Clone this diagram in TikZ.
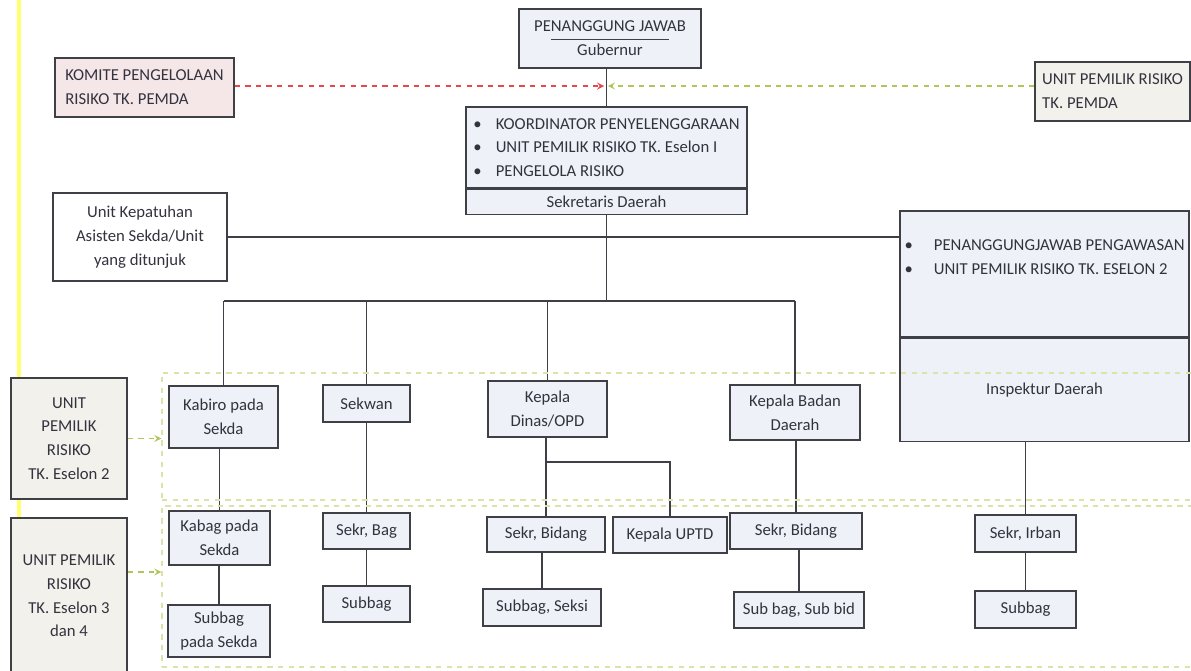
\documentclass[tikz,border=0pt]{standalone}
\usepackage{fontspec}
\setmainfont{Carlito}
\definecolor{boxline}{HTML}{3F3F46}
\definecolor{boxfill}{HTML}{EEF1F8}
\definecolor{komfill}{HTML}{F5E6E8}
\definecolor{unitfill}{HTML}{F3F1EC}
\definecolor{txtcol}{HTML}{33333F}
\definecolor{riskred}{HTML}{E8484A}
\definecolor{riskgreen}{HTML}{AFC65A}
\definecolor{zonecol}{HTML}{DCE3A8}
\definecolor{scanyellow}{HTML}{FFFF70}
\tikzset{
  box/.style={draw=boxline,fill=boxfill,line width=0.9pt,inner sep=1pt,align=center,text=txtcol,font=\fontsize{9.5}{13.5}\selectfont},
  boxsize/.style 2 args={minimum width=#1*0.02cm,minimum height=#2*0.02cm},
  link/.style={draw=boxline,line width=0.8pt},
  riskarrow/.style={dashed,line width=0.8pt,-stealth},
  zone/.style={draw=zonecol,line width=0.6pt,dash pattern=on 3pt off 3pt,inner sep=0pt},
}
\begin{document}
\begin{tikzpicture}[x=0.02cm,y=-0.02cm]
\useasboundingbox (0,0) rectangle (1191,670);
\draw[scanyellow,line width=2pt](19,0)--(19,670);
% top level
\node[box,boxsize={182}{59}] (gub) at (610,38.5) {PENANGGUNG JAWAB\\Gubernur};
\draw[boxline,line width=0.6pt](gub.center)++(-59,1)--++(118,0);
\node[box,fill=komfill,align=left,boxsize={179}{59}] (komite) at (144.5,87.5) {KOMITE PENGELOLAAN\\RISIKO TK. PEMDA};
\node[box,fill=unitfill,align=left,boxsize={155}{59}] (upemda) at (1112.5,91.5) {UNIT PEMILIK RISIKO\\TK. PEMDA};
\node[box,align=left,boxsize={281}{81}] (sekdatop) at (606.5,147.5) {\textbullet\hspace{8pt}KOORDINATOR PENYELENGGARAAN\\\textbullet\hspace{8pt}UNIT PEMILIK RISIKO TK. Eselon I\\\textbullet\hspace{8pt}PENGELOLA RISIKO};
\node[box,boxsize={281}{25},anchor=north] (sekda) at (sekdatop.south) {Sekretaris Daerah};
\node[box,fill=white,boxsize={174}{88}] (kepatuhan) at (140,237) {Unit Kepatuhan\\Asisten Sekda/Unit\\yang ditunjuk};
\node[box,align=left,boxsize={289}{126}] (insptop) at (1044.5,274) {\textbullet\hspace{12pt}PENANGGUNGJAWAB PENGAWASAN\\\textbullet\hspace{12pt}UNIT PEMILIK RISIKO TK. ESELON 2\\[6pt]};
\node[box,boxsize={289}{103},anchor=north] (insp) at (insptop.south) {Inspektur Daerah};
\node[box,fill=unitfill,boxsize={116}{121}] (eselonb) at (69,438.5) {UNIT\\PEMILIK\\RISIKO\\TK. Eselon 2};
\node[box,fill=unitfill,boxsize={116}{156}] (eselonc) at (69,596) {UNIT PEMILIK\\RISIKO\\TK. Eselon 3\\dan 4};
% units
\foreach \nm/\cx/\cy/\w/\h/\txt in {kabiro/223.5/417/109/62/{Kabiro pada\\Sekda},sekwan/366.5/403.5/87/37/{Sekwan},dinas/547.5/409/119/56/{Kepala\\Dinas/OPD},badan/795/412.5/130/55/{Kepala Badan\\Daerah},kabag/219.5/538/101/54/{Kabag pada\\Sekda},sekrbag/366.5/531/87/36/{Sekr, Bag},sekrbid/546/534.5/118/35/{Sekr, Bidang},uptd/670/535/114/36/{Kepala UPTD},sekrbidb/796/531/132/36/{Sekr, Bidang},irban/1025.5/533.5/101/37/{Sekr, Irban},subsekda/219/631/102/52/{Subbag\\pada Sekda},subbag/366.5/604/87/36/{Subbag},seksi/542/607.5/118/37/{Subbag, Seksi},subbid/799/610/130/36/{Sub bag, Sub bid},subirban/1025.5/609.5/101/37/{Subbag}}{\node[box,boxsize={\w}{\h}] (\nm) at (\cx,\cy) {\txt};}
% lines
\coordinate (tap) at (606,86);
\coordinate (bus) at (606,301);
\coordinate (split) at (546,462);
\coordinate (arrowc) at (140,572);
\draw[link](sekdatop.north)--(sekdatop.north |- gub.south);
\draw[riskarrow,riskred](komite.east |- tap)--([xshift=-1pt]tap);
\draw[riskarrow,riskgreen](upemda.west |- tap)--([xshift=1pt]tap);
\draw[link](kepatuhan.east)--(kepatuhan.east -| insptop.west);
\draw[link](sekda.south)--(sekda.south |- bus);
\draw[link](kabiro.north |- bus)--(badan.north |- bus);
\foreach \nm in {kabiro,sekwan,dinas,badan}{\draw[link](\nm.north |- bus)--(\nm.north);}
\foreach \a/\b in {kabiro/kabag,kabag/subsekda,sekwan/sekrbag,sekrbag/subbag,sekrbid/seksi,badan/sekrbidb,sekrbidb/subbid,irban/subirban}{\draw[link](\b.north)--(\b.north |- \a.south);}
\draw[link](sekrbid.north)--(sekrbid.north |- dinas.south);
\draw[link](sekrbid.north |- split)-|(uptd.north);
\draw[link](irban.north)--(irban.north |- insp.south);
% eselon zones
\node[zone,boxsize={1036}{127}] (zoneb) at (680,436.5) {};
\node[zone,boxsize={1036}{161}] (zonec) at (680,586.5) {};
\draw[riskarrow,riskgreen](eselonb.east)--(eselonb.east -| zoneb.west);
\draw[riskarrow,riskgreen](eselonc.east |- arrowc)--(zonec.west |- arrowc);
\end{tikzpicture}
\end{document}
